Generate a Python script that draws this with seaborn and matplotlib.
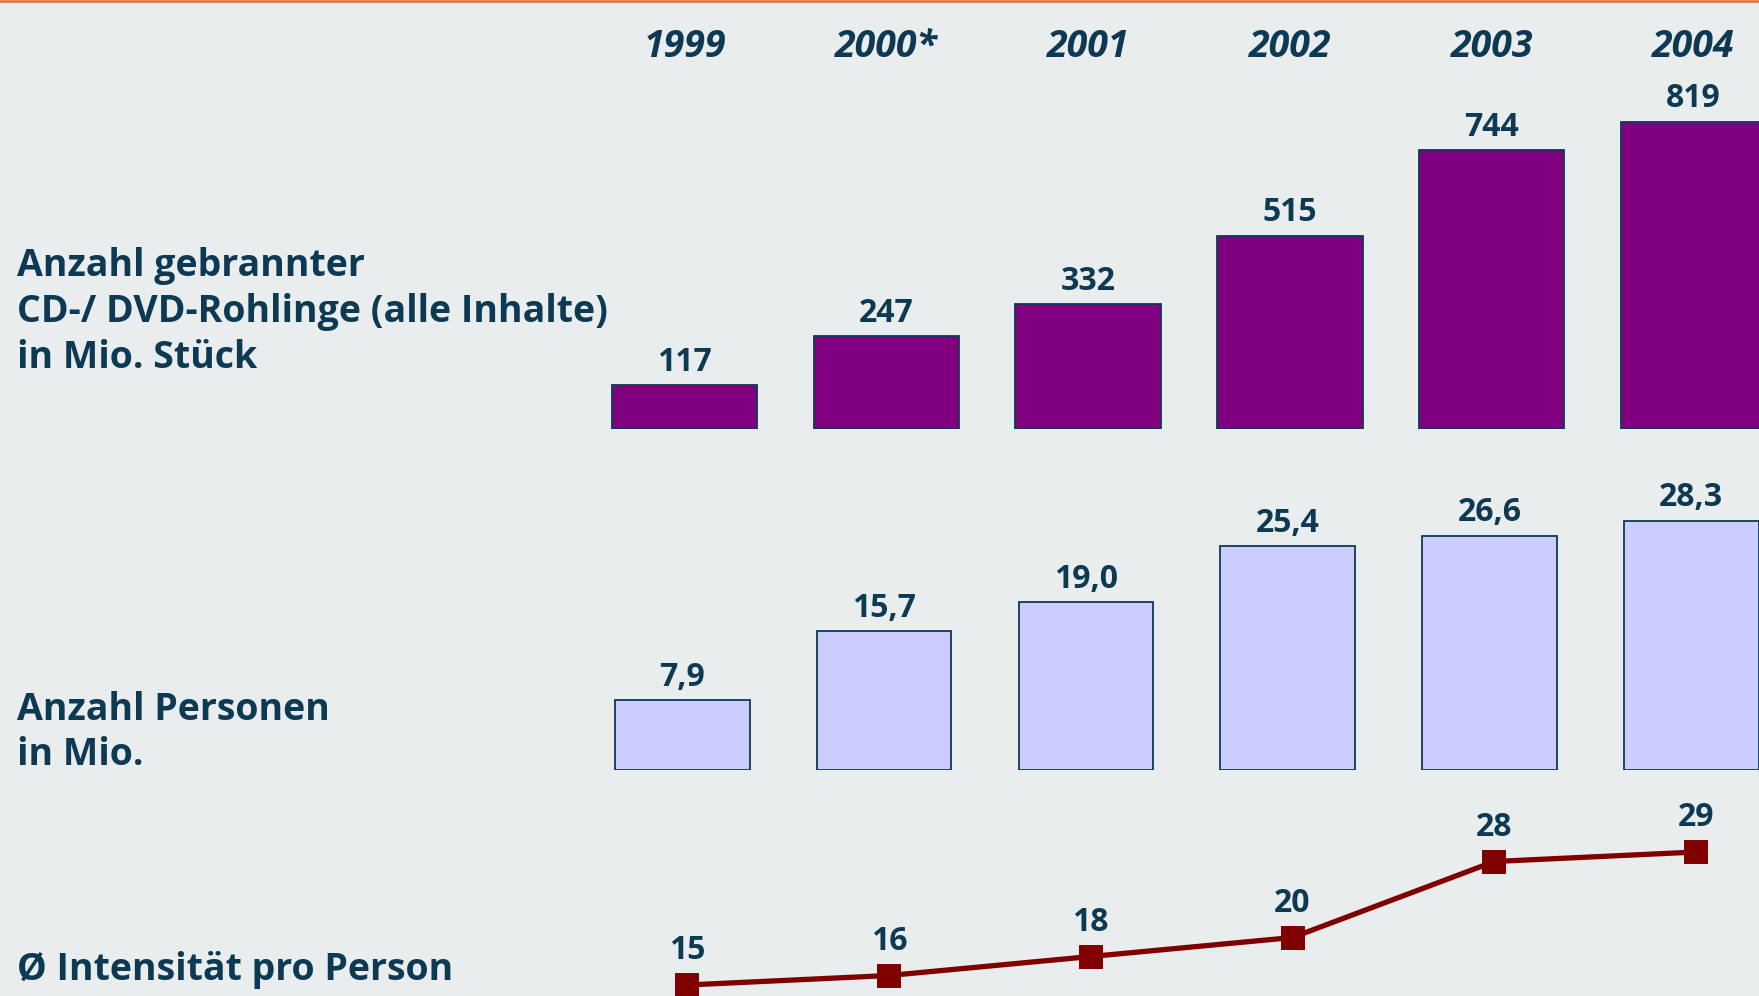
import matplotlib
matplotlib.use("Agg")
import matplotlib.pyplot as plt
from matplotlib.lines import Line2D
import pandas as pd
import seaborn as sns

# Daten
years = ["1999", "2000*", "2001", "2002", "2003", "2004"]
rohlinge = [117, 247, 332, 515, 744, 819]          # Mio. Stück
personen = [7.9, 15.7, 19.0, 25.4, 26.6, 28.3]     # Mio.
intensitaet = [15, 16, 18, 20, 28, 29]             # Rohlinge pro Person

label_rohlinge = "Anzahl gebrannter\nCD-/ DVD-Rohlinge (alle Inhalte)\nin Mio. Stück"
label_personen = "Anzahl Personen\nin Mio."
label_intens = "Ø Intensität pro Person"

bg = "#E9EDEE"
navy = "#0D3A52"

sns.set_theme(style="white")
plt.rcParams["font.family"] = ["Open Sans", "DejaVu Sans"]

W, H = 1759, 996
fig = plt.figure(figsize=(W / 100, H / 100), dpi=100, facecolor=bg)

# layout in pixels
step = 201.8


def px_axes(top, bottom, x0=583.6):
    ax = fig.add_axes([x0 / W, 1 - bottom / H, (W - x0) / W, (bottom - top) / H])
    ax.set_facecolor("none")
    for s in ax.spines.values():
        s.set_visible(False)
    ax.set_xlim(-0.5, -0.5 + (W - x0) / step)
    return ax


# orange rule on top
fig.add_artist(Line2D([0, 1], [1 - 1.5 / H] * 2, color="#F26B21", lw=1.8,
                      transform=fig.transFigure))

# --- Rohlinge
ax1 = px_axes(80, 429)
df1 = pd.DataFrame({"Jahr": years, "Wert": rohlinge})
sns.barplot(data=df1, x="Jahr", y="Wert", ax=ax1, color="#800080", saturation=1,
            width=0.72, edgecolor=navy, linewidth=1.3)
ax1.set_xlim(-0.5, -0.5 + (W - 583.6) / step)
ax1.set_ylim(0, (429 - 80) / 0.375)
ax1.bar_label(ax1.containers[0], labels=[str(v) for v in rohlinge], padding=4.6,
              fontsize=23, fontweight="bold", color=navy)
ax1.xaxis.tick_top()
ax1.set_xticks(range(len(years)))
ax1.set_xticklabels(years, fontsize=27, fontweight="bold", style="italic", color=navy)
ax1.tick_params(axis="x", length=0, pad=10.4)
ax1.set_yticks([])
ax1.set_xlabel("")
ax1.set_ylabel("")

# --- Personen
ax2 = px_axes(470, 769.6, x0=581.4)
df2 = pd.DataFrame({"Jahr": years, "Wert": personen})
sns.barplot(data=df2, x="Jahr", y="Wert", ax=ax2, color="#CCCCFF", saturation=1,
            width=0.667, edgecolor=navy, linewidth=1.3)
ax2.set_xlim(-0.5, -0.5 + (W - 581.4) / step)
ax2.set_ylim(0, (769.6 - 470) / 8.8)
ax2.bar_label(ax2.containers[0], labels=[f"{v:.1f}".replace(".", ",") for v in personen],
              padding=4.6, fontsize=23, fontweight="bold", color=navy)
ax2.set_xticks([])
ax2.set_yticks([])
ax2.set_xlabel("")
ax2.set_ylabel("")

# --- Intensitaet
ax3 = px_axes(780, 996, x0=586.2)
df3 = pd.DataFrame({"Jahr": years, "Wert": intensitaet})
sns.pointplot(data=df3, x="Jahr", y="Wert", ax=ax3, color="#800000", markers="s",
              markersize=15, linewidth=3.8)
for ln in ax3.lines:
    ln.set_clip_on(False)
ax3.set_xlim(-0.5, -0.5 + (W - 586.2) / step)
ylo = 15 - (996 - 985) / 9.5
ax3.set_ylim(ylo, ylo + (996 - 780) / 9.5)
for i, v in enumerate(intensitaet):
    ax3.annotate(str(v), (i, v), xytext=(0, 24.5), textcoords="offset points",
                 ha="center", va="center", fontsize=23, fontweight="bold",
                 color=navy, annotation_clip=False)
ax3.set_xticks([])
ax3.set_yticks([])
ax3.set_xlabel("")
ax3.set_ylabel("")

# row labels on the left
kw = dict(ha="left", va="center", fontsize=27, fontweight="bold", color=navy,
          linespacing=1.26)
fig.text(17 / W, 1 - 312 / H, label_rohlinge, **kw)
fig.text(17 / W, 1 - 732.5 / H, label_personen, **kw)
fig.text(17 / W, 1 - 969.5 / H, label_intens, **kw)

fig.savefig("out.png", dpi=100, facecolor=bg)
